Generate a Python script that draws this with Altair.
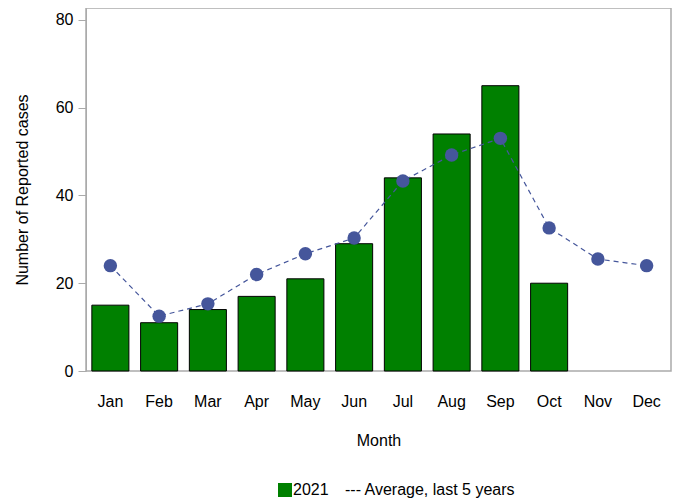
import altair as alt
import pandas as pd

months = ["Jan", "Feb", "Mar", "Apr", "May", "Jun", "Jul", "Aug", "Sep", "Oct", "Nov", "Dec"]
cases_2021 = [15, 11, 14, 17, 21, 29, 44, 54, 65, 20, None, None]
avg_5yr = [24, 12.5, 15.3, 22, 26.7, 30.3, 43.3, 49.2, 53, 32.6, 25.5, 24]
series_names = ["2021", "---  Average, last 5 years"]

df = pd.DataFrame({"month": months, "cases": cases_2021, "avg": avg_5yr})
df["series"] = series_names[0]

FONT = "Liberation Sans"

x = alt.X("month:N", sort=months, title="Month",
          scale=alt.Scale(paddingInner=0.24, paddingOuter=0.12),
          axis=alt.Axis(labelAngle=0, ticks=False, domain=False, labelPadding=22,
                        titlePadding=23))
y_scale = alt.Scale(domain=[0, 82.7], nice=False)

bars = alt.Chart(df).mark_bar(stroke="black", strokeWidth=1).encode(
    x=x,
    y=alt.Y("cases:Q", scale=y_scale, title="Number of Reported cases",
            axis=alt.Axis(values=[0, 20, 40, 60, 80], tickSize=8, domainColor="#aaaaaa",
                          tickColor="#aaaaaa", labelPadding=5, titlePadding=25,
                          grid=False)),
    color=alt.Color("series:N",
                    scale=alt.Scale(domain=series_names, range=["#008000", "transparent"]),
                    legend=alt.Legend(title=None, orient="none", legendX=191, legendY=474,
                                      direction="horizontal", symbolType="square",
                                      symbolSize=196, symbolStrokeWidth=0,
                                      labelOffset=0, columnPadding=0, labelLimit=400,
                                      labelFontSize=16, labelFont=FONT, labelColor="black")),
)

line = alt.Chart(df).mark_line(color="#45569b", strokeDash=[5, 4], strokeWidth=1.2).encode(
    x=alt.X("month:N", sort=months), y=alt.Y("avg:Q", scale=y_scale)
)
points = alt.Chart(df).mark_circle(color="#45569b", size=180, opacity=1).encode(
    x=alt.X("month:N", sort=months), y=alt.Y("avg:Q", scale=y_scale)
)

chart = alt.layer(bars, line, points).properties(
    width=585, height=363,
    autosize=alt.AutoSizeParams(type="none"),
    padding={"left": 78, "top": 0, "right": 2, "bottom": 132},
).configure_view(stroke="#aaaaaa", strokeWidth=1.5).configure_axis(
    labelFont=FONT, titleFont=FONT, labelFontSize=16, titleFontSize=16,
    labelColor="black", titleColor="black", titleFontWeight="normal",
)

chart.save("out.html", embed_options={"renderer": "svg", "actions": False})
